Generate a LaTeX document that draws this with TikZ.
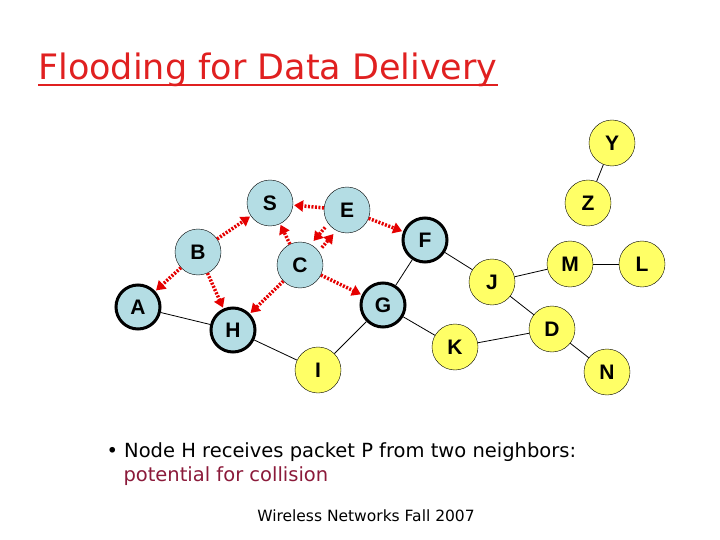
\documentclass[tikz,border=0pt]{standalone}
\usepackage{fontspec}
\setmainfont{DejaVu Sans}
\newfontfamily\arialf{Liberation Sans}
\usetikzlibrary{arrows.meta,calc}
\definecolor{nblue}{HTML}{B4DDE4}
\definecolor{nyel}{HTML}{FFFF66}
\definecolor{tred}{HTML}{E02020}
\definecolor{dred}{HTML}{8B1A3A}
\begin{document}
\begin{tikzpicture}[x=1pt,y=-1pt,
 nd/.style={circle,draw,minimum size=46pt,inner sep=0pt,font=\arialf\bfseries\fontsize{21}{21}\selectfont},
 bl/.style={nd,fill=nblue},
 bt/.style={bl,line width=3pt,minimum size=44pt},
 yl/.style={nd,fill=nyel},
 ed/.style={draw,line width=0.8pt},
 fl/.style={draw=red!90!black,line width=3.5pt,dash pattern=on 2pt off 1.5pt,-{Triangle[length=9pt,width=11pt]},shorten >=1pt}]
\useasboundingbox (0,0) rectangle (720,540);
\node[anchor=base west,text=tred,inner sep=0pt,font=\fontsize{35}{35}\selectfont] (t) at (38,80) {Flooding for Data Delivery};
\draw[tred,line width=1.5pt] (t.base west) ++(0,5) -- ([yshift=-5pt]t.base east);
\node[bl] (S) at (270,203) {S};
\node[bl] (E) at (347,210) {E};
\node[bt] (F) at (425,240) {F};
\node[bl] (B) at (198,252) {B};
\node[bl] (C) at (300,265) {C};
\node[bt] (A) at (138,307) {A};
\node[bt] (H) at (233,330) {H};
\node[bt] (G) at (383,305) {G};
\node[yl] (I) at (318,370) {I};
\node[yl] (K) at (455,347) {K};
\node[yl] (Y) at (612,143) {Y};
\node[yl] (Z) at (588,203) {Z};
\node[yl] (J) at (492,282) {J};
\node[yl] (M) at (570,264) {M};
\node[yl] (L) at (642,264) {L};
\node[yl] (D) at (552,329) {D};
\node[yl] (N) at (607,372) {N};
\foreach \a/\b in {A/H,H/I,I/G,G/K,G/F,F/J,J/M,M/L,J/D,K/D,D/N,Y/Z} \draw[ed] (\a) -- (\b);
\foreach \a/\b in {B/S,E/S,E/F,B/A,B/H,C/H,C/G,C/S} \draw[fl] (\a) -- (\b);
\coordinate (e1) at ([shift={(-4,-3.5)}]E.center);
\coordinate (c1) at ([shift={(-4,-3.5)}]C.center);
\coordinate (e2) at ([shift={(4,3.5)}]E.center);
\coordinate (c2) at ([shift={(4,3.5)}]C.center);
\draw[fl] ($(e1)!0.38!(c1)$) -- ($(e1)!0.64!(c1)$);
\draw[fl] ($(c2)!0.38!(e2)$) -- ($(c2)!0.64!(e2)$);
\node[anchor=base west,font=\fontsize{19.5}{19.5}\selectfont] (b1) at (103,457) {\textbullet\ Node H receives packet P from two neighbors:};
\node[anchor=base west,text=dred,font=\fontsize{19.5}{19.5}\selectfont] (b2) at (120,481) {potential for collision};
\node[anchor=base,font=\fontsize{15.5}{15.5}\selectfont] (ft) at (366,521) {Wireless Networks Fall 2007};
\end{tikzpicture}
\end{document}
